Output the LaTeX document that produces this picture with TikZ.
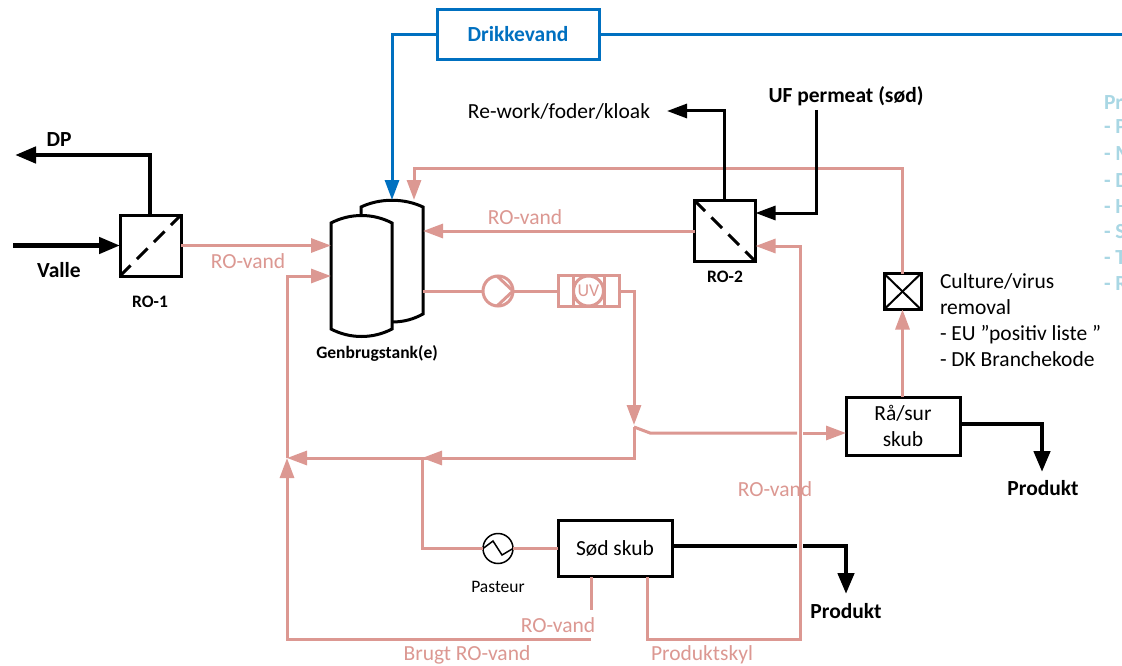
\documentclass[tikz,border=0pt]{standalone}
\usepackage{fontspec}
\setmainfont{Carlito}
\usepackage{xcolor}
\usetikzlibrary{arrows.meta,calc}
\definecolor{rovand}{HTML}{DC9892}
\definecolor{drikke}{HTML}{0070C0}
\definecolor{faded}{HTML}{A9D7E4}
\tikzset{
    every node/.style={font=\fontsize{21.5}{26}\selectfont,inner sep=0,outer sep=0},
    unit/.style={draw=black,line width=3pt,fill=white,align=center},
    label/.style={font=\fontsize{21.5}{26}\bfseries},
    small/.style={font=\fontsize{17.5}{21}\bfseries},
    pipe/.style={rovand,line width=3pt},
    pipearrow/.style={pipe,-{Triangle[length=20pt,width=14pt]}},
    stream/.style={black,line width=3pt,-{Triangle[length=20pt,width=14pt]}},
    heavy/.style={black,line width=4.5pt},
    heavyarrow/.style={heavy,-{Triangle[length=21pt,width=16pt]}},
    water/.style={drikke,line width=3pt}
}
\begin{document}
\begin{tikzpicture}[x=1pt,y=-1pt]
    \useasboundingbox (0,0) rectangle (1122,666);
    \fill[white] (0,0) rectangle (1122,666);
    \node[unit,draw=drikke,minimum width=162pt,minimum height=50pt,text=drikke,font=\fontsize{21.5}{26}\bfseries] (drikkevand) at (518,34.5) {Drikkevand};
    \node[unit,minimum width=61pt,minimum height=61pt] (ro1) at (150.5,245.5) {};
    \node[unit,minimum width=61pt,minimum height=61pt] (ro2) at (725,231) {};
    \node[unit,minimum width=37pt,minimum height=36pt] (virus) at (902.5,291.5) {};
    \node[unit,minimum width=114pt,minimum height=58pt] (raasur) at (903,426) {Rå/sur\\skub};
    \node[unit,minimum width=114pt,minimum height=56pt] (soed) at (615,548.5) {Sød skub};
    \node[draw=rovand,line width=3pt,circle,minimum size=30pt] (pump) at (498,291) {};
    \node[draw=black,line width=1.5pt,circle,minimum size=30pt] (pasteur) at (498,548.5) {};
    \node[draw=rovand,line width=3pt,minimum width=61pt,minimum height=31pt] (uv) at (588.5,291) {};
    \draw[black,line width=3pt,dash pattern=on 15pt off 9pt] (ro1.south west)--(ro1.north east);
    \draw[black,line width=3pt,dash pattern=on 15pt off 9pt] (ro2.north west)--(ro2.south east);
    \foreach \p/\q in {north west/south east,south west/north east}{
        \draw[black,line width=2pt] (virus.\p)--(virus.\q);
    }
    \foreach \x in {573,604}{
        \draw[rovand,line width=3pt] (\x,276)--(\x,306);
    }
    \node[draw=rovand,line width=3pt,circle,minimum size=30pt,fill=white,text=rovand,font=\fontsize{18}{21}\selectfont] (uvlamp) at (uv.center) {UV};
    \draw[pipe] (497,276)--(pump.east)--(497,306);
    \draw[black,line width=1.5pt] (pasteur.west)--(493,541)--(502,555)--(pasteur.east);
    \draw[black,line width=3pt,fill=white] (361,215)--(361,207) .. controls (380,198) and (404,198) .. (423,207)--(423,314) .. controls (414,319) and (404,322) .. (392,322)--(361,322)--cycle;
    \draw[black,line width=3pt,fill=white] (331,223) .. controls (350,213) and (373,213) .. (392,223)--(392,329) .. controls (373,339) and (350,339) .. (331,329)--cycle;
    \coordinate (fronttop) at (331,245.5);
    \coordinate (frontlow) at (331,276);
    \coordinate (backout) at (423,291);
    \coordinate (backmid) at (423,231);
    \coordinate (backtopa) at (392,200);
    \coordinate (backtopb) at (414,200);
    \coordinate (valve) at (634,427);
    \coordinate (tee) at (422,458);
    \coordinate (join) at (287,458);
    \draw[water,-{Triangle[length=20pt,width=14pt]}] (drikkevand.west)-|(backtopa);
    \draw[water] (drikkevand.east)--(1122,34.5);
    \draw[pipearrow] (ro1.east)--(fronttop);
    \draw[pipearrow] (ro2.west)--(backmid);
    \draw[pipe] (backout)--(pump.west);
    \draw[pipe] (pump.east)--(uv.west);
    \draw[pipearrow] (uv.east)-|(634,425);
    \draw[pipe] (valve)--(650,433)--(797,433);
    \draw[pipearrow] (803,433)--(raasur.west|-803,433);
    \draw[pipe] (634,427)--(634,458)--(tee);
    \draw[pipearrow] (634,458)--(tee);
    \draw[pipearrow] (tee)--(join);
    \draw[pipe] (tee)|-(pasteur.west);
    \draw[pipe] (pasteur.east)--(soed.west);
    \draw[pipearrow] (join)|-(frontlow);
    \draw[pipe] (591,577)--(591,610);
    \draw[pipearrow] (591,639)-|(join);
    \draw[pipearrow] (647,577)|-(800,639)|-(ro2.east|-800,246);
    \draw[pipearrow] (virus.north)|-(414,169)--(backtopb);
    \draw[pipearrow] (raasur.north-|virus.north)--(virus.south);
    \draw[heavyarrow] (13,245.5)--(ro1.west);
    \draw[stream] (724,200)|-(667,111);
    \draw[stream] (816,110)|-(ro2.east|-816,213);
    \draw[heavyarrow] (150,215)|-(15,155);
    \draw[heavy] (soed.east|-672,546)--(797,546);
    \draw[heavyarrow] (803,546)-|(846,594);
    \draw[heavyarrow] (raasur.east|-960,424)-|(1042,472);
    \foreach \y/\t in {127/- P,154/- M,181/- D,207/- H,232/- S,258/- T,284/- R}{
        \node[anchor=west,text=faded,label] (list\y) at (1104,\y) {\t};
    }
    \node[anchor=west,text=faded,label] (listhead) at (1104,103) {Pr};
    \node[label] (dp) at (59,140) {DP};
    \node[label] (valle) at (59,270) {Valle};
    \node[small] (ro1label) at (150,302) {RO-1};
    \node[small] (ro2label) at (725,277) {RO-2};
    \node[small] (tanklabel) at (377,353) {Genbrugstank(e)};
    \node[font=\fontsize{17.5}{21}\selectfont] (pasteurlabel) at (498,587) {Pasteur};
    \node (rework) at (559,111) {Re-work/foder/kloak};
    \node[label] (uf) at (846,96) {UF permeat (sød)};
    \node[anchor=north west,align=left] (culture) at (940,274) {Culture/virus\\removal\\- EU ”positiv liste ”\\- DK Branchekode};
    \node[label] (produkt1) at (1043,488) {Produkt};
    \node[label] (produkt2) at (846,611) {Produkt};
    \foreach \x/\y/\t in {248/261/RO-vand,525/217/RO-vand,775/489/RO-vand,558/625/RO-vand,467/655/Brugt RO-vand,702/655/Produktskyl}{
        \node[text=rovand] at (\x,\y) {\t};
    }
\end{tikzpicture}
\end{document}
